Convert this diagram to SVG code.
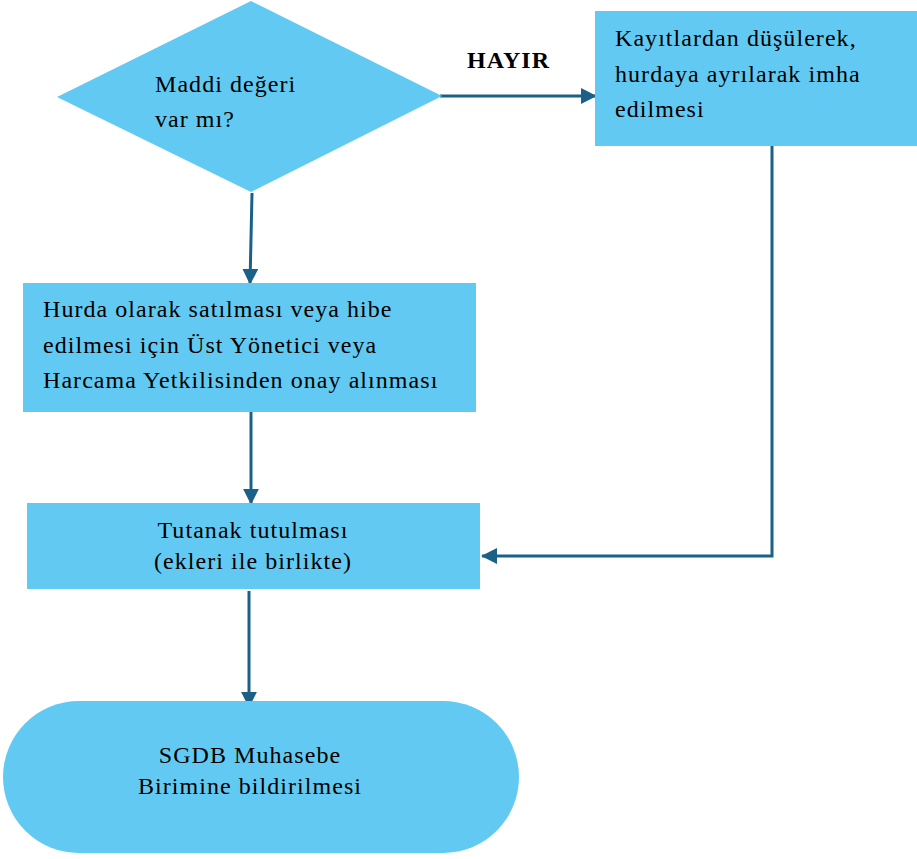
<svg xmlns="http://www.w3.org/2000/svg" width="917" height="859" viewBox="0 0 917 859">
<defs>
<style>
.shape{fill:#62CAF2;stroke:none}
.t{font-family:'Liberation Serif','DejaVu Serif',serif;font-size:24px;letter-spacing:1.05px;fill:#000}
.c{text-anchor:middle}
.edge{fill:none;stroke:#1B6187;stroke-width:3}
</style>
<marker id="ah" viewBox="0 0 10 10" refX="9.5" refY="5" markerWidth="5.3" markerHeight="5.3" markerUnits="strokeWidth" orient="auto">
<path d="M0,0 L10,5 L0,10 z" fill="#1B6187"/>
</marker>
</defs>
<rect width="917" height="859" fill="#fff"/>
<g id="connectors">
<line class="edge" x1="440" y1="96" x2="596" y2="96" marker-end="url(#ah)"/>
<line class="edge" x1="252" y1="193" x2="250" y2="284" marker-end="url(#ah)"/>
<line class="edge" x1="251" y1="412" x2="251" y2="504" marker-end="url(#ah)"/>
<line class="edge" x1="249" y1="591" x2="249" y2="707" marker-end="url(#ah)"/>
<polyline class="edge" points="772,143 772,556 482,556" marker-end="url(#ah)"/>
<text x="467" y="68" class="t" font-weight="bold">HAYIR</text>
</g>
<g id="decision">
<polygon class="shape" points="251,1 442,96 251,192 57,97"/>
<text class="t" x="155" y="92">Maddi değeri</text>
<text class="t" x="155" y="127">var mı?</text>
</g>
<g id="scrap">
<rect class="shape" x="595" y="11" width="322" height="135"/>
<text class="t" x="615" y="46">Kayıtlardan düşülerek,</text>
<text class="t" x="615" y="82">hurdaya ayrılarak imha</text>
<text class="t" x="615" y="117">edilmesi</text>
</g>
<g id="approval">
<rect class="shape" x="23" y="283" width="453" height="129"/>
<text class="t" x="43" y="317">Hurda olarak satılması veya hibe</text>
<text class="t" x="43" y="353">edilmesi için Üst Yönetici veya</text>
<text class="t" x="43" y="388">Harcama Yetkilisinden onay alınması</text>
</g>
<g id="minutes">
<rect class="shape" x="27" y="503" width="453" height="86"/>
<text class="t c" x="253" y="538">Tutanak tutulması</text>
<text class="t c" x="253" y="569">(ekleri ile birlikte)</text>
</g>
<g id="notify">
<rect class="shape" x="3" y="701" width="516" height="152" rx="76" ry="76"/>
<text class="t c" x="250" y="763">SGDB Muhasebe</text>
<text class="t c" x="250" y="794">Birimine bildirilmesi</text>
</g>
</svg>
